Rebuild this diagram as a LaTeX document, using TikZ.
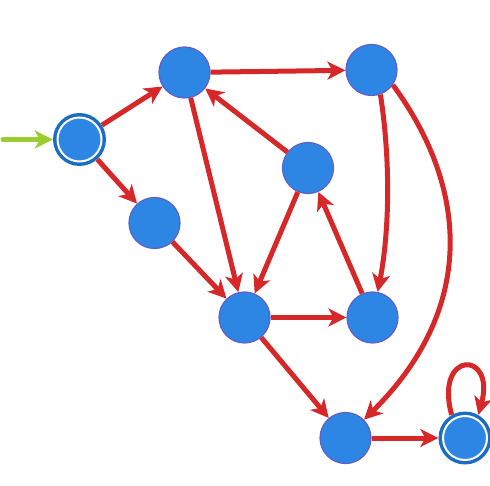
\documentclass[tikz,border=0pt]{standalone}
\usetikzlibrary{arrows.meta}
\definecolor{edgered}{RGB}{214,40,40}
\definecolor{nodeblue}{RGB}{46,134,228}
\definecolor{nodeborder}{RGB}{95,95,200}
\definecolor{accblue}{RGB}{26,108,196}
\definecolor{startgreen}{RGB}{154,205,50}
\tikzset{
  state/.style={circle, fill=nodeblue, draw=nodeborder, line width=1.2pt, minimum size=51pt, inner sep=0pt},
  accstate/.style={circle, fill=accblue, draw=none, minimum size=53pt, inner sep=0pt},
  accinner/.style={circle, fill=nodeblue, draw=white, line width=2pt, minimum size=44pt, inner sep=0pt},
  edge/.style={draw=edgered, line width=5pt, -{Stealth[length=18pt,width=18pt,inset=5pt]}},
  startedge/.style={draw=startgreen, line width=5pt, line cap=round, -{Stealth[length=18pt,width=18pt,inset=5pt]}}
}
\begin{document}
\begin{tikzpicture}[x=1pt,y=-1pt]
\useasboundingbox (0,0) rectangle (490,486);
\node[accstate] (A) at (79.5,139.5) {};
\node[accinner] (Ain) at (79.5,139.5) {};
\node[state] (B) at (184.5,72.5) {};
\node[state] (C) at (371.5,70) {};
\node[state] (D) at (308,168) {};
\node[state] (E) at (154.5,223) {};
\node[state] (F) at (244.5,317.5) {};
\node[state] (G) at (372.5,317.5) {};
\node[state] (H) at (345.5,438) {};
\node[accstate] (I) at (465,438) {};
\node[accinner] (Iin) at (465,438) {};
\coordinate (s) at (3,139.5);
\draw[startedge] (s) -- (A);
\draw[edge] (A) -- (B);
\draw[edge] (A) -- (E);
\draw[edge] (B) -- (C);
\draw[edge] (B) -- (F);
\draw[edge] (D) -- (B);
\draw[edge] (D) -- (F);
\draw[edge] (E) -- (F);
\draw[edge] (F) -- (G);
\draw[edge] (G) -- (D);
\draw[edge] (F) -- (H);
\draw[edge] (H) -- (I);
\draw[edge] (C.-70) .. controls (392,170) and (388,240) .. (G);
\draw[edge] (C.-35) .. controls (470,190) and (475,310) .. (H);
\draw[edge] (I.120) .. controls (434,350) and (496,350) .. (I.60);
\end{tikzpicture}
\end{document}
